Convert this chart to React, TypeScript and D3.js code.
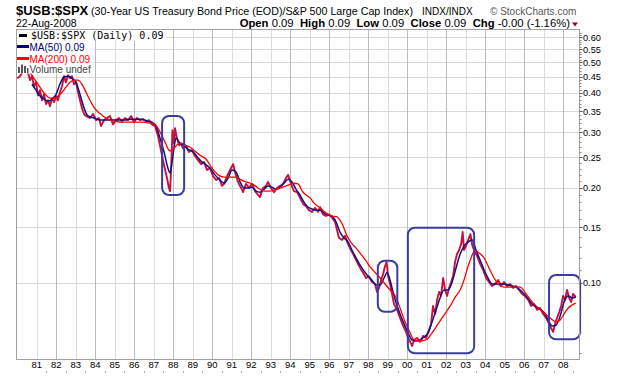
import React from "react";
import * as d3 from "d3";

// ---- data (date as decimal year, ratio value) ----
const PRICE: [number, number][] = [
  [1980.0, 0.445], [1980.14, 0.452], [1980.35, 0.472], [1980.55, 0.465], [1980.66, 0.439], [1980.76, 0.452],
  [1980.86, 0.42], [1980.96, 0.432], [1981.07, 0.393], [1981.17, 0.408], [1981.27, 0.379], [1981.37, 0.396],
  [1981.48, 0.369], [1981.58, 0.379], [1981.68, 0.363], [1981.78, 0.385], [1981.89, 0.374], [1981.99, 0.391],
  [1982.09, 0.379], [1982.19, 0.402], [1982.3, 0.42], [1982.4, 0.452], [1982.5, 0.432], [1982.61, 0.455],
  [1982.71, 0.445], [1982.81, 0.452], [1982.91, 0.426], [1983.02, 0.432], [1983.12, 0.402], [1983.22, 0.379],
  [1983.32, 0.358], [1983.43, 0.343], [1983.53, 0.338], [1983.73, 0.333], [1983.89, 0.343], [1984.04, 0.328],
  [1984.19, 0.333], [1984.3, 0.314], [1984.45, 0.328], [1984.61, 0.333], [1984.76, 0.338], [1984.91, 0.318],
  [1985.07, 0.328], [1985.22, 0.333], [1985.37, 0.325], [1985.53, 0.333], [1985.68, 0.328], [1985.84, 0.338],
  [1985.99, 0.323], [1986.14, 0.333], [1986.3, 0.328], [1986.45, 0.33], [1986.61, 0.325], [1986.76, 0.328],
  [1986.91, 0.318], [1987.07, 0.314], [1987.22, 0.292], [1987.37, 0.2635], [1987.53, 0.236], [1987.68, 0.215],
  [1987.78, 0.2], [1987.84, 0.1955], [1987.91, 0.245], [1987.96, 0.305], [1988.04, 0.277], [1988.09, 0.309],
  [1988.19, 0.288], [1988.3, 0.273], [1988.4, 0.277], [1988.5, 0.267], [1988.66, 0.271], [1988.81, 0.26],
  [1988.96, 0.2635], [1989.12, 0.252], [1989.27, 0.245], [1989.43, 0.238], [1989.58, 0.2415], [1989.73, 0.228],
  [1989.89, 0.231], [1990.04, 0.218], [1990.2, 0.212], [1990.35, 0.215], [1990.5, 0.203], [1990.61, 0.206],
  [1990.76, 0.218], [1990.91, 0.228], [1991.07, 0.238], [1991.17, 0.2245], [1991.32, 0.209], [1991.48, 0.2],
  [1991.58, 0.194], [1991.73, 0.206], [1991.89, 0.2], [1992.04, 0.206], [1992.19, 0.1955], [1992.35, 0.19],
  [1992.45, 0.187], [1992.6, 0.2], [1992.76, 0.203], [1992.86, 0.209], [1993.01, 0.2], [1993.17, 0.194],
  [1993.32, 0.2], [1993.48, 0.203], [1993.63, 0.206], [1993.78, 0.215], [1993.89, 0.22], [1994.04, 0.206],
  [1994.19, 0.1955], [1994.35, 0.194], [1994.5, 0.186], [1994.66, 0.178], [1994.81, 0.175], [1994.96, 0.17],
  [1995.12, 0.168], [1995.27, 0.173], [1995.43, 0.168], [1995.53, 0.174], [1995.68, 0.165], [1995.84, 0.163],
  [1995.99, 0.165], [1996.14, 0.161], [1996.3, 0.156], [1996.4, 0.147], [1996.5, 0.1388], [1996.66, 0.137],
  [1996.81, 0.141], [1996.96, 0.133], [1997.12, 0.127], [1997.27, 0.122], [1997.43, 0.1165], [1997.58, 0.1116],
  [1997.73, 0.108], [1997.89, 0.1037], [1998.04, 0.105], [1998.19, 0.1007], [1998.35, 0.0993], [1998.45, 0.0937],
  [1998.55, 0.0964], [1998.66, 0.1022], [1998.76, 0.1068], [1998.86, 0.1132], [1998.94, 0.1165], [1999.02, 0.105],
  [1999.12, 0.0993], [1999.22, 0.0923], [1999.32, 0.0858], [1999.48, 0.0822], [1999.63, 0.0775], [1999.79, 0.0731],
  [1999.94, 0.07], [2000.04, 0.067], [2000.15, 0.0651], [2000.25, 0.0632], [2000.35, 0.066], [2000.5, 0.067],
  [2000.66, 0.0651], [2000.81, 0.068], [2000.96, 0.067], [2001.12, 0.071], [2001.22, 0.0742], [2001.32, 0.0846],
  [2001.43, 0.0798], [2001.53, 0.0884], [2001.63, 0.0937], [2001.73, 0.091], [2001.84, 0.1037], [2001.94, 0.095],
  [2002.04, 0.091], [2002.14, 0.0964], [2002.25, 0.1007], [2002.35, 0.1052], [2002.45, 0.1165], [2002.55, 0.1235],
  [2002.66, 0.1272], [2002.76, 0.1328], [2002.84, 0.145], [2002.91, 0.1272], [2003.01, 0.1309], [2003.12, 0.1368],
  [2003.24, 0.1428], [2003.32, 0.1328], [2003.42, 0.1272], [2003.58, 0.1218], [2003.74, 0.1148], [2003.89, 0.11],
  [2004.04, 0.1037], [2004.19, 0.1007], [2004.35, 0.0978], [2004.5, 0.0993], [2004.66, 0.1022], [2004.81, 0.0978],
  [2004.96, 0.1007], [2005.12, 0.0978], [2005.27, 0.0993], [2005.43, 0.0964], [2005.58, 0.0978], [2005.73, 0.095],
  [2005.89, 0.0923], [2006.04, 0.091], [2006.2, 0.0884], [2006.35, 0.0846], [2006.5, 0.0858], [2006.66, 0.0822],
  [2006.81, 0.0833], [2006.97, 0.0798], [2007.12, 0.0775], [2007.27, 0.0742], [2007.37, 0.072], [2007.48, 0.07],
  [2007.58, 0.0742], [2007.68, 0.0775], [2007.79, 0.0809], [2007.89, 0.0846], [2007.99, 0.091], [2008.09, 0.0884],
  [2008.19, 0.095], [2008.3, 0.0897], [2008.4, 0.0871], [2008.5, 0.0923], [2008.64, 0.0903],
];

const MA50: [number, number][] = [
  [1980.76, 0.426], [1980.96, 0.408], [1981.17, 0.391], [1981.37, 0.382], [1981.58, 0.377], [1981.78, 0.382],
  [1981.99, 0.396], [1982.19, 0.426], [1982.4, 0.449], [1982.61, 0.452], [1982.81, 0.445], [1983.02, 0.432],
  [1983.22, 0.396], [1983.43, 0.358], [1983.63, 0.338], [1983.94, 0.333], [1984.25, 0.328], [1984.55, 0.328],
  [1984.86, 0.328], [1985.17, 0.328], [1985.48, 0.328], [1985.78, 0.33], [1986.09, 0.33], [1986.4, 0.33],
  [1986.71, 0.325], [1986.91, 0.323], [1987.12, 0.314], [1987.32, 0.288], [1987.53, 0.26], [1987.73, 0.231],
  [1987.84, 0.223], [1987.94, 0.2415], [1988.04, 0.267], [1988.14, 0.288], [1988.35, 0.277], [1988.55, 0.273],
  [1988.76, 0.265], [1988.96, 0.262], [1989.17, 0.254], [1989.37, 0.245], [1989.63, 0.238], [1989.89, 0.231],
  [1990.14, 0.22], [1990.4, 0.212], [1990.61, 0.207], [1990.81, 0.215], [1991.02, 0.228], [1991.22, 0.2245],
  [1991.43, 0.209], [1991.63, 0.2], [1991.84, 0.2], [1992.04, 0.201], [1992.25, 0.1955], [1992.45, 0.194],
  [1992.66, 0.198], [1992.86, 0.203], [1993.07, 0.201], [1993.27, 0.198], [1993.48, 0.201], [1993.68, 0.207],
  [1993.89, 0.213], [1994.09, 0.209], [1994.3, 0.198], [1994.5, 0.19], [1994.71, 0.18], [1994.91, 0.174],
  [1995.12, 0.1715], [1995.32, 0.17], [1995.53, 0.17], [1995.73, 0.1665], [1995.94, 0.164], [1996.14, 0.163],
  [1996.35, 0.156], [1996.55, 0.145], [1996.76, 0.1388], [1996.97, 0.1348], [1997.17, 0.127], [1997.38, 0.12],
  [1997.58, 0.114], [1997.79, 0.109], [1997.99, 0.105], [1998.19, 0.102], [1998.4, 0.0986], [1998.61, 0.0986],
  [1998.81, 0.1037], [1998.96, 0.108], [1999.12, 0.102], [1999.27, 0.0937], [1999.43, 0.0864], [1999.63, 0.0798],
  [1999.84, 0.0742], [2000.04, 0.0695], [2000.25, 0.066], [2000.45, 0.0655], [2000.66, 0.066], [2000.86, 0.0675],
  [2001.07, 0.0695], [2001.27, 0.0753], [2001.48, 0.0822], [2001.68, 0.0897], [2001.89, 0.095], [2002.09, 0.095],
  [2002.3, 0.1007], [2002.5, 0.1116], [2002.71, 0.1235], [2002.91, 0.1309], [2003.12, 0.1348], [2003.32, 0.137],
  [2003.53, 0.127], [2003.74, 0.118], [2003.94, 0.11], [2004.14, 0.1037], [2004.35, 0.0993], [2004.55, 0.0993],
  [2004.76, 0.0993], [2004.96, 0.0993], [2005.17, 0.0986], [2005.38, 0.0978], [2005.58, 0.0971], [2005.79, 0.095],
  [2005.99, 0.0923], [2006.2, 0.089], [2006.4, 0.0858], [2006.61, 0.0839], [2006.81, 0.0827], [2007.02, 0.0804],
  [2007.22, 0.0764], [2007.43, 0.0731], [2007.63, 0.0736], [2007.84, 0.0786], [2008.04, 0.0871], [2008.25, 0.091],
  [2008.45, 0.0897], [2008.64, 0.0903],
];

const MA200: [number, number][] = [
  [1980.66, 0.465], [1980.86, 0.445], [1981.07, 0.426], [1981.27, 0.408], [1981.48, 0.393], [1981.68, 0.385],
  [1981.89, 0.385], [1982.09, 0.391], [1982.3, 0.402], [1982.5, 0.417], [1982.71, 0.432], [1982.91, 0.439],
  [1983.12, 0.439], [1983.32, 0.426], [1983.53, 0.402], [1983.73, 0.379], [1983.94, 0.36], [1984.14, 0.348],
  [1984.35, 0.34], [1984.55, 0.333], [1984.76, 0.328], [1985.07, 0.325], [1985.37, 0.323], [1985.78, 0.323],
  [1986.3, 0.323], [1986.81, 0.321], [1987.07, 0.318], [1987.22, 0.309], [1987.43, 0.292], [1987.63, 0.275],
  [1987.78, 0.2635], [1987.89, 0.262], [1988.04, 0.267], [1988.24, 0.275], [1988.45, 0.277], [1988.66, 0.273],
  [1988.86, 0.269], [1989.17, 0.26], [1989.37, 0.254], [1989.68, 0.247], [1989.99, 0.231], [1990.3, 0.22],
  [1990.61, 0.2165], [1990.91, 0.2165], [1991.22, 0.2165], [1991.43, 0.213], [1991.73, 0.209], [1992.04, 0.206],
  [1992.35, 0.2], [1992.66, 0.1955], [1992.96, 0.1955], [1993.27, 0.198], [1993.58, 0.201], [1993.89, 0.204],
  [1994.19, 0.207], [1994.4, 0.206], [1994.61, 0.1955], [1994.81, 0.19], [1995.02, 0.186], [1995.22, 0.179],
  [1995.53, 0.173], [1995.84, 0.1665], [1996.14, 0.163], [1996.4, 0.162], [1996.66, 0.154], [1996.91, 0.141],
  [1997.17, 0.133], [1997.38, 0.129], [1997.58, 0.1244], [1997.89, 0.1174], [1998.09, 0.1124], [1998.35, 0.108],
  [1998.61, 0.1037], [1998.86, 0.0993], [1999.12, 0.095], [1999.32, 0.0923], [1999.48, 0.0884], [1999.63, 0.0833],
  [1999.89, 0.0753], [2000.15, 0.0695], [2000.35, 0.066], [2000.66, 0.0655], [2000.96, 0.066], [2001.27, 0.0695],
  [2001.58, 0.0742], [2001.89, 0.0792], [2002.2, 0.0846], [2002.5, 0.091], [2002.71, 0.095], [2002.91, 0.1022],
  [2003.12, 0.1132], [2003.27, 0.12], [2003.47, 0.127], [2003.68, 0.1244], [2003.94, 0.12], [2004.19, 0.1116],
  [2004.45, 0.1037], [2004.66, 0.0993], [2004.96, 0.0971], [2005.27, 0.0971], [2005.58, 0.0971], [2005.79, 0.0971],
  [2006.09, 0.0923], [2006.4, 0.0871], [2006.71, 0.0833], [2007.02, 0.0804], [2007.33, 0.0775], [2007.63, 0.0753],
  [2007.84, 0.0764], [2008.04, 0.0798], [2008.25, 0.0833], [2008.45, 0.0852], [2008.64, 0.0864],
];

const YEARS = d3.range(1981, 2009);
const YEAR_LABELS = ["81", "82", "83", "84", "85", "86", "87", "88", "89", "90", "91", "92", "93", "94",
  "95", "96", "97", "98", "99", "00", "01", "02", "03", "04", "05", "06", "07", "08"];
const Y_TICKS = [0.1, 0.15, 0.2, 0.25, 0.3, 0.35, 0.4, 0.45, 0.5, 0.55, 0.6];
const Y_MINOR = [0.06, 0.07, 0.08, 0.09, 0.11, 0.12, 0.13, 0.14, 0.16, 0.17, 0.18, 0.19, 0.21, 0.22, 0.23, 0.24,
  0.26, 0.27, 0.28, 0.29, 0.31, 0.32, 0.33, 0.34, 0.36, 0.37, 0.38, 0.39, 0.41, 0.42, 0.43, 0.44, 0.46, 0.47,
  0.48, 0.49, 0.51, 0.52, 0.53, 0.54, 0.56, 0.57, 0.58, 0.59, 0.61, 0.62];

// annotation boxes: [start year, end year, top value, bottom value]
const BOXES: [number, number, number, number][] = [
  [1987.43, 1988.56, 0.338, 0.19],
  [1998.49, 1999.49, 0.1176, 0.0811],
  [2000.03, 2003.43, 0.1496, 0.0599],
  [2007.27, 2008.86, 0.106, 0.0663],
];

const TITLE_SYMBOL = "$USB:$SPX";
const TITLE_DESC = "(30-Year US Treasury Bond Price (EOD)/S&P 500 Large Cap Index)";
const STATS: [string, string][] = [["Open", "0.09"], ["High", "0.09"], ["Low", "0.09"], ["Close", "0.09"], ["Chg", "-0.00 (-1.16%)"]];

const W = 620, H = 376;
const L = 16.5, R = 579.5, T = 29.5, B = 359.5;
const FONT = "'Liberation Sans', Arial, sans-serif";

export default function App() {
  const x = d3.scaleLinear().domain([1981, 2008]).range([36.7, 563.3]);
  const y = d3.scaleLog().domain([0.1, 0.6]).range([283, 37.3]);
  const line = d3.line<[number, number]>().x(d => x(d[0])).y(d => y(d[1]));
  const smooth = d3.line<[number, number]>().x(d => x(d[0])).y(d => y(d[1])).curve(d3.curveMonotoneX);

  return (
    <svg width={W} height={H} style={{ position: "absolute", left: 0, top: 0, background: "#fff" }} fontFamily={FONT}>
      <defs>
        <clipPath id="plot"><rect x={L} y={T} width={R - L} height={B - T} /></clipPath>
      </defs>
      <rect x={0} y={0} width={W} height={H} fill="#fff" />
      {/* header */}
      <text x={16} y={15} fontSize={13} fontWeight="bold">{TITLE_SYMBOL}</text>
      <text x={91} y={15} fontSize={10.7}>{TITLE_DESC}</text>
      <text x={422} y={15} fontSize={10}>INDX/INDX</text>
      <text x={490} y={15} fontSize={10} fill="#555">© StockCharts.com</text>
      <text x={16} y={27} fontSize={10.5}>22-Aug-2008</text>
      <text x={570} y={27} fontSize={11.3} textAnchor="end" style={{ whiteSpace: "pre" }}>
        {STATS.map(([k, v], i) => (
          <React.Fragment key={k}>
            <tspan fontWeight="bold">{(i ? "  " : "") + k}</tspan>
            <tspan>{" " + v}</tspan>
          </React.Fragment>
        ))}
      </text>
      <path d="M572,22.5 L578,22.5 L575,26.5 Z" fill="#990033" />

      {/* grid */}
      {Y_TICKS.map(v => (
        <line key={"h" + v} x1={L} x2={R} y1={Math.round(y(v)) + 0.5} y2={Math.round(y(v)) + 0.5} stroke="#d9d9d9" />
      ))}
      {YEARS.map(yr => (
        <line key={"v" + yr} x1={Math.round(x(yr)) + 0.5} x2={Math.round(x(yr)) + 0.5} y1={T} y2={B}
          stroke={yr % 2 === 0 ? "#bcbcbc" : "#dcdcdc"} />
      ))}

      {/* series */}
      <g clipPath="url(#plot)">
        <path d={line(PRICE) || ""} fill="none" stroke="#c8103c" strokeWidth={1.9} strokeLinejoin="round" />
        <path d={smooth(MA50) || ""} fill="none" stroke="#10108a" strokeWidth={1.5} />
        <path d={smooth(MA200) || ""} fill="none" stroke="#ff0000" strokeWidth={1.3} />
      </g>

      {/* annotation boxes */}
      {BOXES.map(([a, b, v0, v1], i) => (
        <rect key={"b" + i} x={x(a)} y={y(v0)} width={x(b) - x(a)} height={y(v1) - y(v0)} rx={7} ry={7}
          fill="none" stroke="#3c3ca0" strokeWidth={2} />
      ))}

      {/* legend */}
      <rect x={L} y={T} width={150} height={11} fill="#fff" />
      <rect x={L} y={T + 11} width={77} height={33} fill="#fff" />
      <line x1={19} x2={27} y1={35.5} y2={35.5} stroke="#000" strokeWidth={3} />
      <text x={31} y={39} fontSize={10} fontFamily="'DejaVu Sans Mono', monospace">$USB:$SPX (Daily) 0.09</text>
      <line x1={17} x2={29} y1={46.5} y2={46.5} stroke="#000080" strokeWidth={3} />
      <text x={29.5} y={50.5} fontSize={10} fill="#000080">MA(50) 0.09</text>
      <line x1={17} x2={29} y1={58.5} y2={58.5} stroke="#ff0000" strokeWidth={3} />
      <text x={29.5} y={62.5} fontSize={10} fill="#ff0000">MA(200) 0.09</text>
      <g fill="#555">
        <rect x={18} y={67} width={2} height={6} />
        <rect x={21} y={64.5} width={2} height={8.5} />
        <rect x={24} y={66} width={2} height={7} />
        <rect x={27} y={68} width={1.5} height={5} />
      </g>
      <text x={29.5} y={73} fontSize={10} fill="#444">Volume undef</text>

      {/* frame */}
      <rect x={L} y={T} width={R - L} height={B - T} fill="none" stroke="#a0a0a0" />

      {/* right axis */}
      {Y_MINOR.map(v => (
        <line key={"m" + v} x1={R} x2={R + 2} y1={Math.round(y(v)) + 0.5} y2={Math.round(y(v)) + 0.5} stroke="#888" />
      ))}
      {Y_TICKS.map(v => (
        <g key={"t" + v}>
          <line x1={R} x2={R + 3} y1={Math.round(y(v)) + 0.5} y2={Math.round(y(v)) + 0.5} stroke="#555" />
          <text x={583} y={y(v) + 3.3} fontSize={9.2}>{v.toFixed(2)}</text>
        </g>
      ))}

      {/* bottom axis */}
      {YEARS.map((yr, i) => (
        <g key={"x" + yr}>
          <text x={x(yr)} y={367.5} fontSize={9.5} textAnchor="middle">{YEAR_LABELS[i]}</text>
          <line x1={Math.round(x(yr + 0.5)) + 0.5} x2={Math.round(x(yr + 0.5)) + 0.5} y1={371} y2={373} stroke="#aaa" />
        </g>
      ))}
    </svg>
  );
}
